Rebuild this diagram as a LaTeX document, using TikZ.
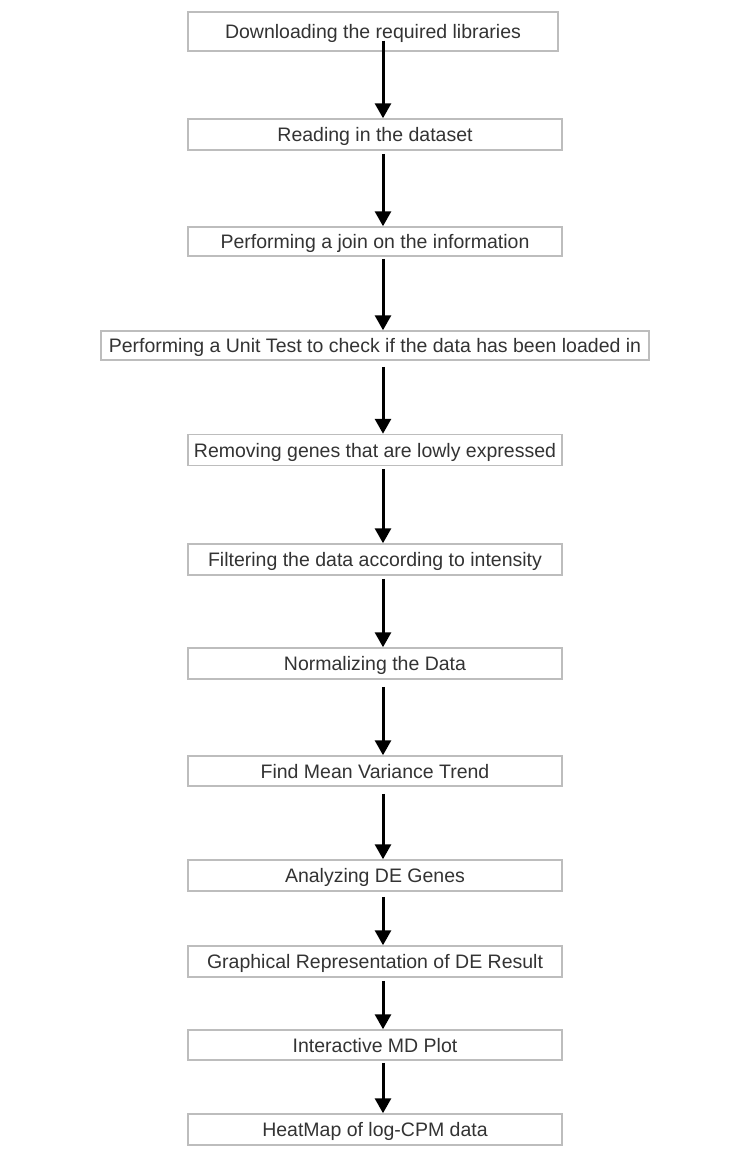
\documentclass[tikz,border=0pt]{standalone}
\usepackage{fontspec}
\setmainfont{Liberation Sans}
\usetikzlibrary{arrows.meta}
\definecolor{boxline}{HTML}{BDBDBD}
\definecolor{txt}{HTML}{333333}
\begin{document}
\begin{tikzpicture}[x=1pt,y=-1pt,
  stepbox/.style={draw=boxline,line width=1.5pt,fill=white,inner sep=0pt,
    text=txt,font=\fontsize{19.5}{22}\selectfont,text height=14pt,text depth=0pt,minimum height=30pt},
  arr/.style={line width=3pt,-{Triangle[width=16pt,length=15pt]}}]
\useasboundingbox (0,0) rectangle (740,1164);
\node[stepbox,minimum width=370pt,minimum height=39pt] (n1) at (373,31.5) {Downloading the required libraries};
\node[stepbox,minimum width=374pt,minimum height=31pt] (n2) at (375,134.5) {Reading in the dataset};
\node[stepbox,minimum width=374pt,minimum height=29pt] (n3) at (375,241.5) {Performing a join on the information};
\node[stepbox,minimum width=548pt,minimum height=29pt] (n4) at (375,345.5) {Performing a Unit Test to check if the data has been loaded in};
\node[stepbox,minimum width=374pt,minimum height=31pt] (n5) at (375,450) {Removing genes that are lowly expressed};
\node[stepbox,minimum width=374pt,minimum height=31pt] (n6) at (375,559.5) {Filtering the data according to intensity};
\node[stepbox,minimum width=374pt,minimum height=31pt] (n7) at (375,663.5) {Normalizing the Data};
\node[stepbox,minimum width=374pt,minimum height=30pt] (n8) at (375,771) {Find Mean Variance Trend};
\node[stepbox,minimum width=374pt,minimum height=31pt] (n9) at (375,875.5) {Analyzing DE Genes};
\node[stepbox,minimum width=374pt,minimum height=31pt] (n10) at (375,961.5) {Graphical Representation of DE Result};
\node[stepbox,minimum width=374pt,minimum height=30pt] (n11) at (375,1045) {Interactive MD Plot};
\node[stepbox,minimum width=374pt,minimum height=31pt] (n12) at (375,1129.5) {HeatMap of log-CPM data};
\draw[arr] ([xshift=10pt,yshift=11pt]n1.south) -- ([xshift=8pt]n2.north);
\draw[arr] ([xshift=8pt,yshift=-3pt]n2.south) -- ([xshift=8pt]n3.north);
\draw[arr] ([xshift=8pt,yshift=-2pt]n3.south) -- ([xshift=8pt]n4.north);
\draw[arr] ([xshift=8pt,yshift=-6pt]n4.south) -- ([xshift=8pt]n5.north);
\draw[arr] ([xshift=8pt,yshift=-3pt]n5.south) -- ([xshift=8pt]n6.north);
\draw[arr] ([xshift=8pt,yshift=-3pt]n6.south) -- ([xshift=8pt]n7.north);
\draw[arr] ([xshift=8pt,yshift=-7pt]n7.south) -- ([xshift=8pt]n8.north);
\draw[arr] ([xshift=8pt,yshift=-7pt]n8.south) -- ([xshift=8pt]n9.north);
\draw[arr] ([xshift=8pt,yshift=-5pt]n9.south) -- ([xshift=8pt]n10.north);
\draw[arr] ([xshift=8pt,yshift=-3pt]n10.south) -- ([xshift=8pt]n11.north);
\draw[arr] ([xshift=8pt,yshift=-2pt]n11.south) -- ([xshift=8pt]n12.north);
\end{tikzpicture}
\end{document}
